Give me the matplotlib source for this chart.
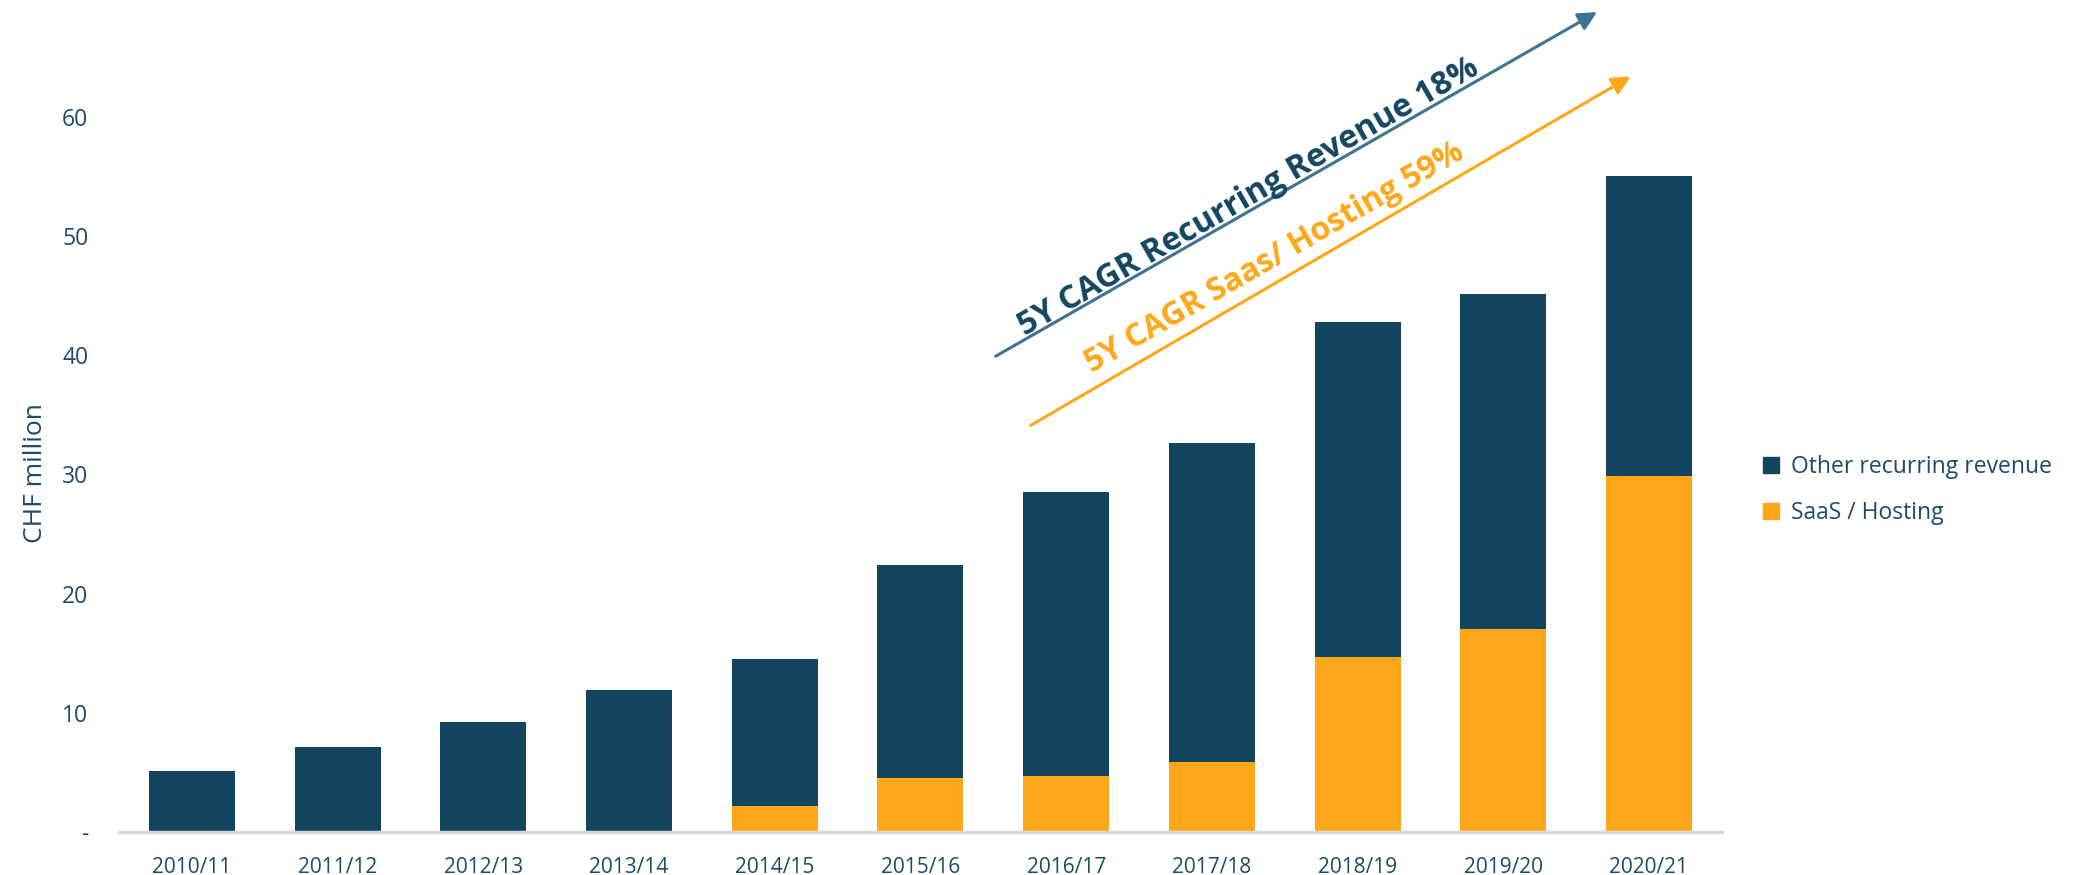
import matplotlib
matplotlib.use('Agg')
import matplotlib.pyplot as plt
from matplotlib.patches import Patch

plt.rcParams['font.family'] = ['Open Sans', 'DejaVu Sans']

years = ['2010/11', '2011/12', '2012/13', '2013/14', '2014/15', '2015/16',
         '2016/17', '2017/18', '2018/19', '2019/20', '2020/21']
saas = [0, 0, 0, 0, 2.2, 4.5, 4.7, 5.9, 14.7, 17.0, 29.9]
total = [5.1, 7.1, 9.2, 11.9, 14.5, 22.4, 28.5, 32.6, 42.8, 45.1, 55.0]
other = [t - s for t, s in zip(total, saas)]

navy = '#14455f'
orange = '#ffa719'
text_col = '#1d4a66'
arrow_blue = '#3f7391'

fig = plt.figure(figsize=(20.77, 8.75), dpi=100)
ax = fig.add_axes([0.0573, 0.0491, 0.7717, 0.940])

x = range(len(years))
ax.bar(x, saas, width=0.59, color=orange, label='SaaS / Hosting')
ax.bar(x, other, width=0.59, bottom=saas, color=navy, label='Other recurring revenue')

ax.set_xlim(-0.5, len(years) - 0.5)
ax.set_ylim(0, 69)
ax.set_yticks([0, 10, 20, 30, 40, 50, 60])
ax.set_yticklabels(['-', '10', '20', '30', '40', '50', '60'])
ax.set_xticks(list(x))
ax.set_xticklabels(years)
ax.tick_params(axis='both', length=0, labelcolor=text_col)
ax.tick_params(axis='y', pad=22, labelsize=16.5)
ax.tick_params(axis='x', pad=18, labelsize=15)
for s in ['top', 'right', 'left']:
    ax.spines[s].set_visible(False)
ax.spines['bottom'].set_color('#d9d9d9')
ax.spines['bottom'].set_linewidth(2.5)
ax.set_ylabel('CHF million', fontsize=19, color=text_col, labelpad=12)
ax.yaxis.set_label_coords(-0.044, 0.436)

# CAGR arrows
ax.annotate('', xy=(9.66, 68.9), xytext=(5.50, 39.8), annotation_clip=False,
            arrowprops=dict(arrowstyle='-|>', color=arrow_blue, lw=2.2, mutation_scale=28))
ax.annotate('', xy=(9.89, 63.5), xytext=(5.74, 34.0), annotation_clip=False,
            arrowprops=dict(arrowstyle='-|>', color=orange, lw=2.2, mutation_scale=28))
ax.text(7.25, 53.3, '5Y CAGR Recurring Revenue 18%', rotation=30, fontsize=23.5,
        fontweight='bold', color=navy, ha='center', va='center', rotation_mode='anchor')
ax.text(7.43, 48.2, '5Y CAGR Saas/ Hosting 59%', rotation=30, fontsize=23,
        fontweight='bold', color=orange, ha='center', va='center', rotation_mode='anchor')

handles = [Patch(color=navy, label='Other recurring revenue'),
           Patch(color=orange, label='SaaS / Hosting')]
fig.legend(handles=handles, loc='center left', bbox_to_anchor=(0.839, 0.44),
           frameon=False, fontsize=16.5, labelcolor=text_col, handlelength=0.7,
           handleheight=0.7, handletextpad=0.5, labelspacing=1.0)

fig.savefig('out.png', dpi=100)
